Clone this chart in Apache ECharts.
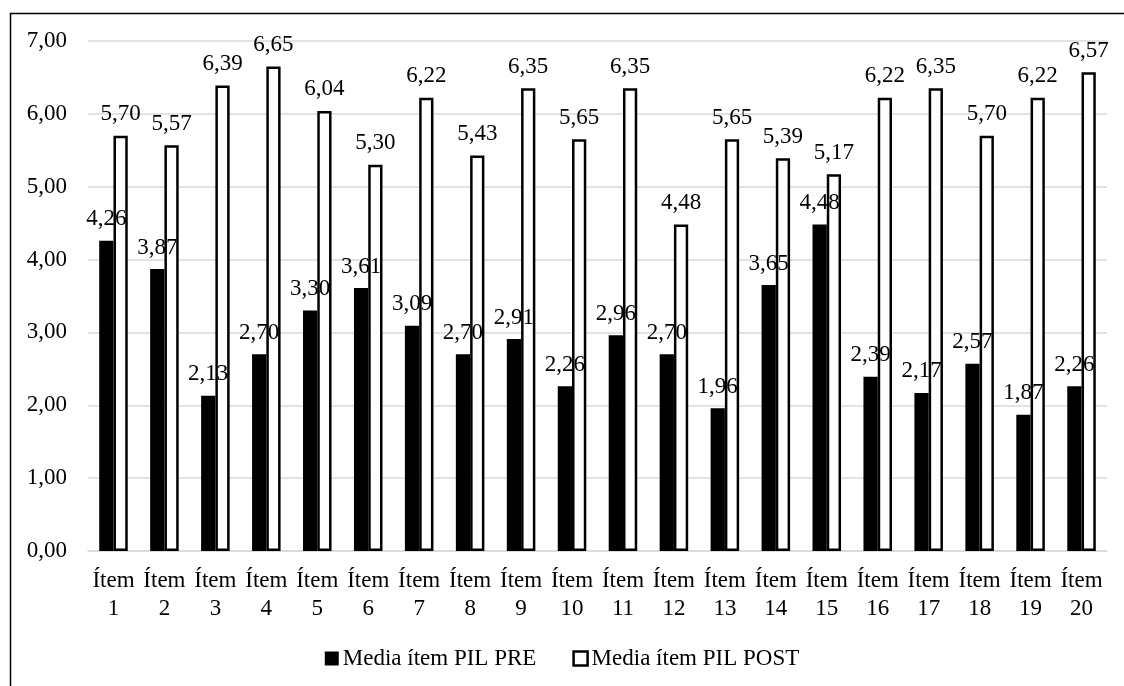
<!DOCTYPE html>
<html>
<head>
<meta charset="utf-8">
<script src="https://cdn.jsdelivr.net/npm/echarts@6/dist/echarts.min.js"></script>
<style>html,body{margin:0;padding:0;background:#fff;}#c{width:1124px;height:686px;}</style>
</head>
<body>
<div id="c"></div>
<script>
const categories = ['Ítem\n1','Ítem\n2','Ítem\n3','Ítem\n4','Ítem\n5','Ítem\n6','Ítem\n7','Ítem\n8','Ítem\n9','Ítem\n10','Ítem\n11','Ítem\n12','Ítem\n13','Ítem\n14','Ítem\n15','Ítem\n16','Ítem\n17','Ítem\n18','Ítem\n19','Ítem\n20'];
const prePIL = [4.26,3.87,2.13,2.70,3.30,3.61,3.09,2.70,2.91,2.26,2.96,2.70,1.96,3.65,4.48,2.39,2.17,2.57,1.87,2.26];
const postPIL = [5.70,5.57,6.39,6.65,6.04,5.30,6.22,5.43,6.35,5.65,6.35,4.48,5.65,5.39,5.17,6.22,6.35,5.70,6.22,6.57];
const seriesNames = ['Media ítem PIL PRE','Media ítem PIL POST'];

const FONT = '"Liberation Serif", "Times New Roman", serif';
const FS = 23;
const fmt = v => Number(v).toFixed(2).replace('.', ',');

const chart = echarts.init(document.getElementById('c'));
chart.setOption({
  animation: false,
  textStyle: {fontFamily: FONT},
  graphic: [{
    type: 'rect', left: 8, top: 11,
    shape: {width: 1300, height: 1000},
    style: {fill: 'none', stroke: '#000', lineWidth: 1.5},
    silent: true, z: -1
  }],
  grid: {left: 88, right: 17, top: 41, bottom: 135},
  legend: {
    bottom: 11, left: 'center',
    itemWidth: 14, itemHeight: 14, itemGap: 36,
    textStyle: {fontFamily: FONT, fontSize: FS, color: '#000', padding: [0, 0, 0, -1]},
    data: [
      {name: seriesNames[0], icon: 'rect', itemStyle: {color: '#000', borderColor: '#000', borderWidth: 0}},
      {name: seriesNames[1], icon: 'rect', itemStyle: {color: '#fff', borderColor: '#000', borderWidth: 2.5}}
    ]
  },
  xAxis: {
    type: 'category', data: categories,
    axisLine: {lineStyle: {color: '#d9d9d9', width: 1.5}},
    axisTick: {show: false},
    axisLabel: {fontFamily: FONT, fontSize: FS, color: '#000', lineHeight: 28, margin: 16, interval: 0}
  },
  yAxis: {
    type: 'value', min: 0, max: 7, interval: 1,
    axisLine: {show: false}, axisTick: {show: false},
    splitLine: {lineStyle: {color: '#d9d9d9', width: 1.5}},
    axisLabel: {fontFamily: FONT, fontSize: FS, color: '#000', margin: 21, formatter: fmt}
  },
  series: [
    {
      name: seriesNames[0], type: 'bar', data: prePIL,
      barWidth: '28%', barGap: '0%',
      itemStyle: {color: '#000', borderColor: '#000', borderWidth: 0},
      label: {show: true, position: 'top', distance: 10, fontFamily: FONT, fontSize: FS, color: '#000', formatter: p => fmt(p.value)}
    },
    {
      name: seriesNames[1], type: 'bar', data: postPIL,
      barWidth: '28%',
      itemStyle: {color: '#fff', borderColor: '#000', borderWidth: 2.5},
      label: {show: true, position: 'top', distance: 10, fontFamily: FONT, fontSize: FS, color: '#000', formatter: p => fmt(p.value)}
    }
  ]
});
</script>
</body>
</html>
